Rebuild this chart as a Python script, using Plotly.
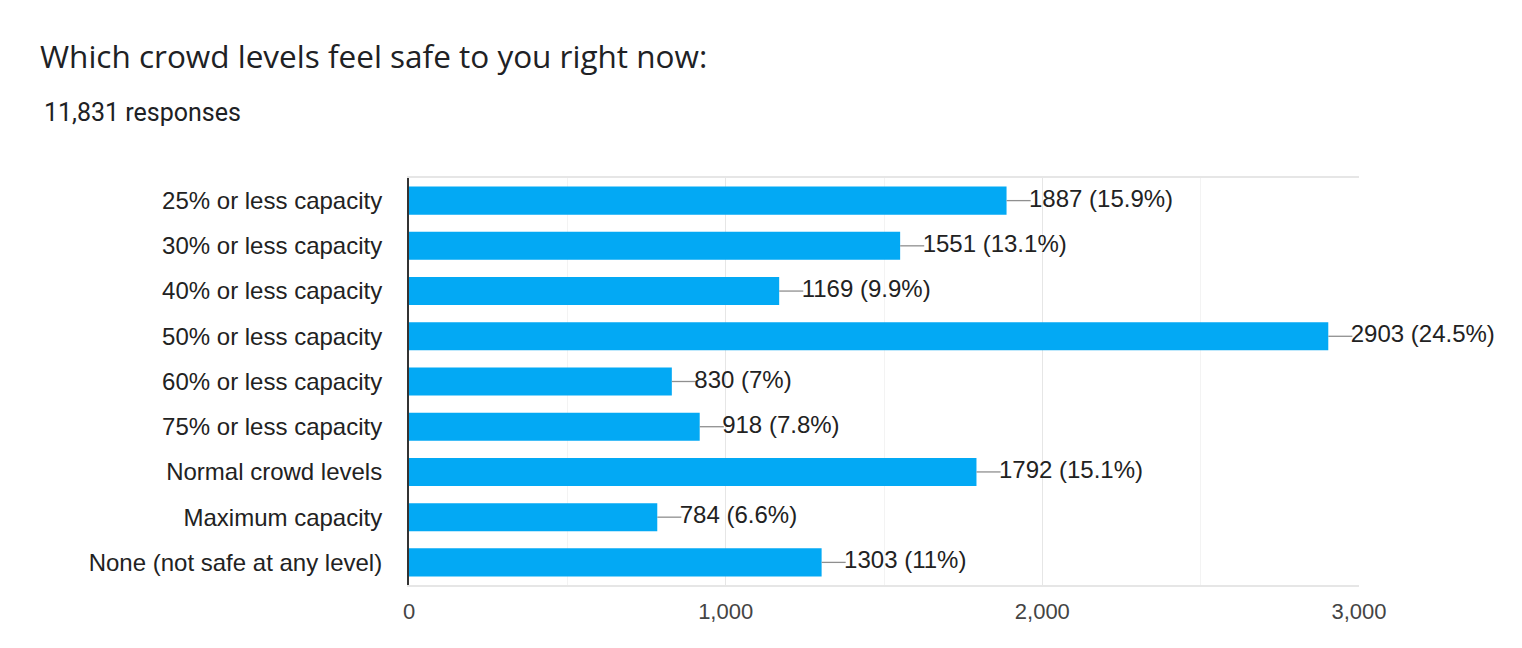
import plotly.graph_objects as go

categories = [
    "25% or less capacity",
    "30% or less capacity",
    "40% or less capacity",
    "50% or less capacity",
    "60% or less capacity",
    "75% or less capacity",
    "Normal crowd levels",
    "Maximum capacity",
    "None (not safe at any level)",
]
counts = [1887, 1551, 1169, 2903, 830, 918, 1792, 784, 1303]
percent_labels = ["15.9%", "13.1%", "9.9%", "24.5%", "7%", "7.8%", "15.1%", "6.6%", "11%"]
x_tickvals = [0, 1000, 2000, 3000]
x_ticktext = ["0", "1,000", "2,000", "3,000"]

TITLE = "Which crowd levels feel safe to you right now:"
SUBTITLE = "11,831 responses"

BAR_COLOR = "#03A9F4"
LEADER = 76  # leader line length in data units

fig = go.Figure()
fig.add_trace(go.Bar(
    x=counts, y=categories, orientation="h",
    marker=dict(color=BAR_COLOR, line=dict(width=0)),
    hoverinfo="skip",
))

# leader lines
lx, ly = [], []
for c, v in zip(categories, counts):
    lx += [v, v + LEADER, None]
    ly += [c, c, None]
fig.add_trace(go.Scatter(x=lx, y=ly, mode="lines",
                         line=dict(color="#8f8f8f", width=1.3),
                         hoverinfo="skip", cliponaxis=False))

labels = [f"{v} ({p})" for v, p in zip(counts, percent_labels)]
fig.add_trace(go.Scatter(
    x=[v + LEADER - 5 for v in counts], y=categories, mode="text",
    text=labels, textposition="middle right",
    textfont=dict(family="Liberation Sans, Arial", size=24, color="#222222"),
    hoverinfo="skip", cliponaxis=False,
))

fig.update_layout(
    width=1522, height=648,
    margin=dict(l=409, r=163, t=178, b=63),
    paper_bgcolor="white", plot_bgcolor="white",
    showlegend=False,
    bargap=0.38,
    title=dict(text=TITLE, x=40 / 1522, xanchor="left", xref="container",
               y=1 - 57 / 648, yanchor="middle", yref="container",
               font=dict(family="Open Sans", size=31.5, color="#202124")),
    annotations=[dict(
        text=SUBTITLE, xref="paper", yref="paper",
        x=(42 - 409) / 950, y=(585 - 113) / 407,
        xanchor="left", yanchor="middle", showarrow=False,
        font=dict(family="Roboto", size=25, color="#202124"),
    )],
    xaxis=dict(
        range=[0, 3000], tickvals=x_tickvals, ticktext=x_ticktext,
        showgrid=True, gridcolor="#e6e6e6", gridwidth=1.3,
        minor=dict(dtick=500, showgrid=True, gridcolor="#f3f3f3", gridwidth=1),
        showline=True, mirror=True, linecolor="#e6e6e6", linewidth=1.5,
        zeroline=False, ticks="", ticklabelstandoff=6,
        tickfont=dict(family="Liberation Sans, Arial", size=22, color="#444444"),
        fixedrange=True,
    ),
    yaxis=dict(
        categoryorder="array", categoryarray=categories, autorange="reversed",
        showline=True, linecolor="#333333", linewidth=2,
        showgrid=False, ticks="", ticklabelstandoff=20,
        tickfont=dict(family="Liberation Sans, Arial", size=24, color="#222222"),
        fixedrange=True,
    ),
)

fig.write_html("out.html")
